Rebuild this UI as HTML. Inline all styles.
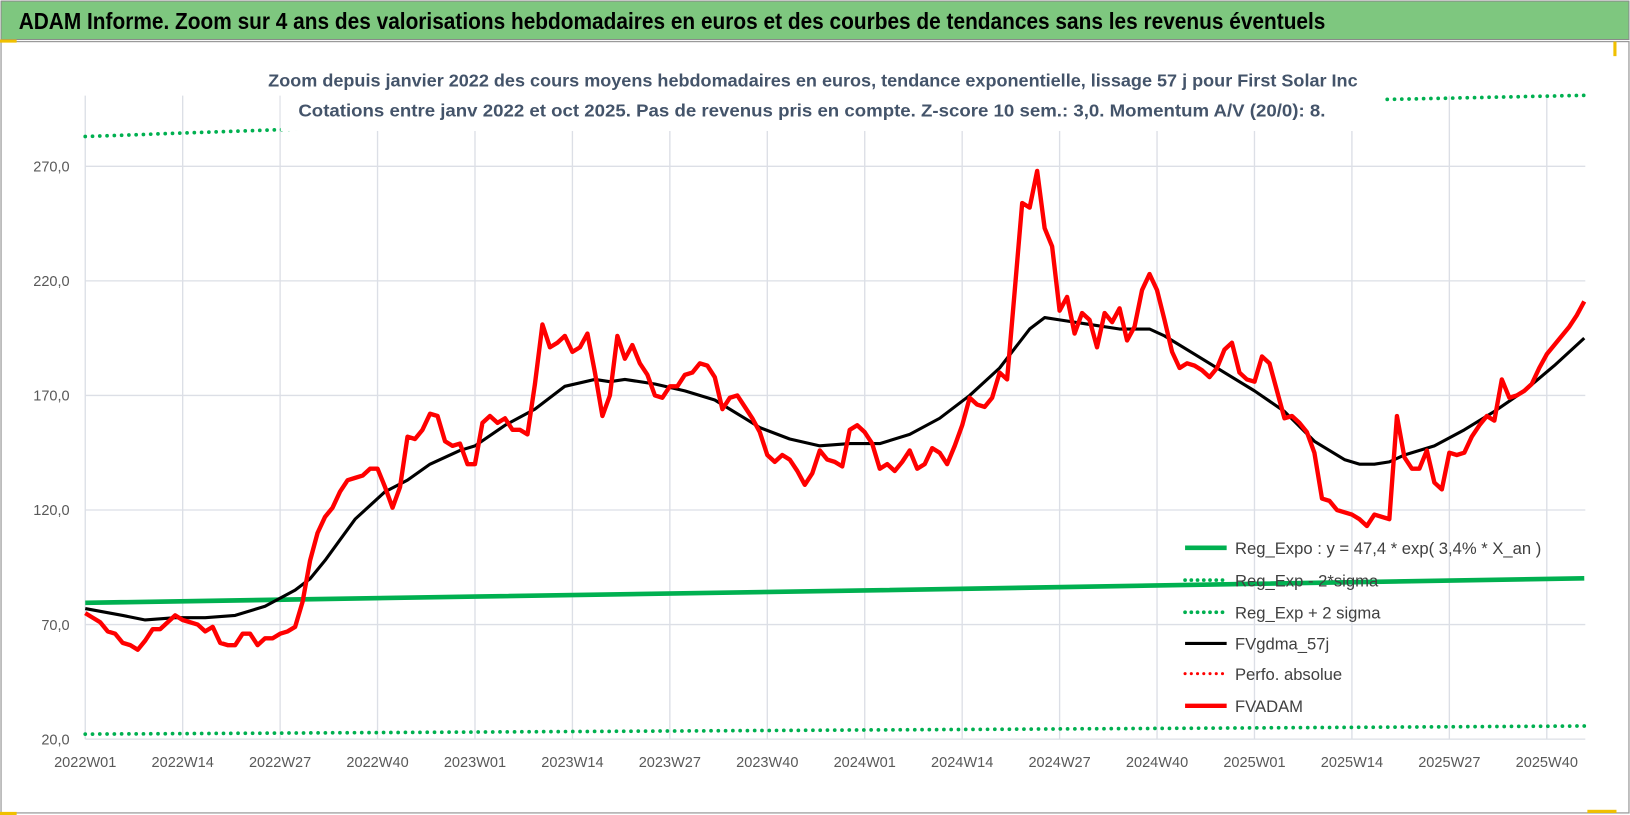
<!DOCTYPE html>
<html><head><meta charset="utf-8"><style>
html,body{margin:0;padding:0;background:#fff;}
svg{display:block;}
text{font-family:"Liberation Sans",sans-serif;}
</style></head><body>
<svg id="chart" width="1630" height="815" viewBox="0 0 1568 784" preserveAspectRatio="none" xmlns="http://www.w3.org/2000/svg">
<rect x="0" y="0" width="1568" height="784" fill="#fff"/>
<rect x="1" y="1" width="1566" height="37" fill="#7ec77f" stroke="#8a8a8a" stroke-width="1"/>
<text x="18" y="28" font-size="22" font-weight="bold" fill="#000" textLength="1257" lengthAdjust="spacingAndGlyphs">ADAM Informe. Zoom sur 4 ans des valorisations hebdomadaires en euros et des courbes de tendances sans les revenus éventuels</text>
<rect x="1" y="40" width="1566" height="742" fill="none" stroke="#9a9a9a" stroke-width="1.2"/>
<rect x="0" y="38" width="16" height="3" fill="#f0c000"/>
<rect x="0" y="781" width="16" height="3" fill="#f0c000"/>
<rect x="1552" y="40" width="3" height="14" fill="#f0c000"/>
<rect x="1527" y="779" width="28" height="3" fill="#f0c000"/>
<g id="grid"></g>
<g id="series"></g>
<rect x="270" y="60" width="1062" height="66" fill="#fff"/>
<text x="782" y="83" font-size="17" font-weight="bold" fill="#44546a" text-anchor="middle" textLength="1048" lengthAdjust="spacingAndGlyphs">Zoom depuis janvier 2022 des cours moyens hebdomadaires en euros, tendance exponentielle, lissage 57 j pour First Solar Inc</text>
<text x="781" y="112" font-size="17" font-weight="bold" fill="#44546a" text-anchor="middle" textLength="988" lengthAdjust="spacingAndGlyphs">Cotations entre janv 2022 et oct 2025. Pas de revenus pris en compte. Z-score 10 sem.: 3,0. Momentum A/V (20/0): 8.</text>
<g id="axes"></g>
<g id="legend"></g>
</svg>
<script>
const NS="http://www.w3.org/2000/svg";
// ---- data ----
const yTicks=[20,70,120,170,220,270];
const xTickLabels=["2022W01","2022W14","2022W27","2022W40","2023W01","2023W14","2023W27","2023W40","2024W01","2024W14","2024W27","2024W40","2025W01","2025W14","2025W27","2025W40"];
const fvadam=[75,73,71,67,66,62,61,59,63,68,68,71,74,72,71,70,67,69,62,61,61,66,66,61,64,64,66,67,69,80,98,110,117,121,128,133,134,135,138,138,130,121,130,152,151,155,162,161,150,148,149,140,
140,158,161,158,160,155,155,153,175,201,191,193,196,189,191,197,180,161,170,196,186,192,184,179,170,169,174,174,179,180,184,183,178,164,169,170,165,160,154,144,141,144,142,137,131,136,146,142,141,139,155,157,
154,149,138,140,137,141,146,138,140,147,145,140,148,157,169,166,165,169,180,177,215,254,252,268,243,235,207,213,197,206,203,191,206,202,208,194,200,216,223,216,203,189,182,184,183,
181,178,182,190,193,180,177,176,187,184,172,160,161,158,154,145,125,124,120,119,118,116,113,118,117,116,161,143,138,138,146,132,129,145,144,145,152,157,161,159,177,169,170,172,175,182,188,192,196,200,205,211];
const maWeeks=[0,5,8,12,16,20,24,28,30,32,34,36,38,40,43,46,50,52,56,60,64,68,70,72,76,80,84,88,90,94,98,102,106,110,114,118,122,126,128,130,134,138,142,144,148,152,156,160,164,168,170,172,174,176,180,184,188,192,196,200];
const maValues=[77,74,72,73,73,74,78,85,90,98,107,116,122,128,133,140,146,148,157,164,174,177,176,177,175,172,168,160,156,151,148,149,149,153,160,170,182,199,204,203,201,199,199,196,188,180,172,163,150,142,140,140,141,144,148,155,163,172,183,195];
const regWeeks=[0,52,104,156,200];
const regValues=[79.5,82.2,84.9,87.8,90.2];
const upperValues=[283,289,294,298,301];
const lowerValues=[22.2,23.1,24,24.9,25.7];
// ---- scales ----
const X0=82, PXW=7.21, Y270=160, PXU=2.204;
const xs=i=>X0+i*PXW;
const ys=v=>Y270-(v-270)*PXU;
function mk(tag,attrs,parent){const e=document.createElementNS(NS,tag);for(const k in attrs)e.setAttribute(k,attrs[k]);parent.appendChild(e);return e;}
const grid=document.getElementById('grid'),series=document.getElementById('series'),axes=document.getElementById('axes'),legend=document.getElementById('legend');
yTicks.forEach(v=>{
  const l=mk('line',{x1:X0,x2:1525,y1:ys(v),y2:ys(v),stroke:'#dcdfe6','stroke-width':1.3},grid);
  
  
  const t=mk('text',{x:67,y:ys(v)+5,'font-size':14,fill:'#595959','text-anchor':'end'},axes);
  t.textContent=v.toFixed(1).replace('.',',');
  
  
});
xTickLabels.forEach((s,k)=>{
  const x=xs(k*13);
  const l=mk('line',{x1:x,x2:x,y1:92,y2:ys(20),stroke:'#dcdfe6','stroke-width':1.3},grid);
  
  
  const t=mk('text',{x:x,y:738,'font-size':14,fill:'#595959','text-anchor':'middle'},axes);
  t.textContent=s;
  
  
});
function pts(ws,vs){return ws.map((w,i)=>xs(w).toFixed(1)+','+ys(vs[i]).toFixed(1)).join(' ');}
const dot={'stroke-dasharray':'0 7','stroke-linecap':'round','stroke-width':3.6,fill:'none',stroke:'#00b050'};
const up=mk('polyline',Object.assign({points:pts(regWeeks,upperValues)},dot),series);


const lo=mk('polyline',Object.assign({points:pts(regWeeks,lowerValues)},dot),series);


const rg=mk('polyline',{points:pts(regWeeks,regValues),stroke:'#00b050','stroke-width':4.5,fill:'none'},series);


const ma=mk('polyline',{points:pts(maWeeks,maValues),stroke:'#000','stroke-width':3,fill:'none','stroke-linejoin':'round'},series);


const rd=mk('polyline',{points:fvadam.map((v,i)=>xs(i).toFixed(1)+','+ys(v).toFixed(1)).join(' '),stroke:'#ff0000','stroke-width':4.2,fill:'none','stroke-linejoin':'round'},series);


// legend
const legItems=[["Reg_Expo : y = 47,4 * exp( 3,4% *  X_an )",'#00b050',false,4.5],["Reg_Exp - 2*sigma",'#00b050',true,3.6],["Reg_Exp + 2 sigma",'#00b050',true,3.6],["FVgdma_57j",'#000',false,3],["Perfo. absolue",'#ff0000',true,3],["FVADAM",'#ff0000',false,4.2]];
const legY=[527,558,589,619,648,679];
legItems.forEach((it,i)=>{
  const a={x1:1140,x2:1180,y1:legY[i],y2:legY[i],stroke:it[1],'stroke-width':it[3]};
  if(it[2]){a['stroke-dasharray']='0 6';a['stroke-linecap']='round';}
  const l=mk('line',a,legend);
  
  
  const t=mk('text',{x:1188,y:legY[i]+6,'font-size':16,fill:'#404040'},legend);
  t.textContent=it[0];
  
  
});
</script>
</body></html>
